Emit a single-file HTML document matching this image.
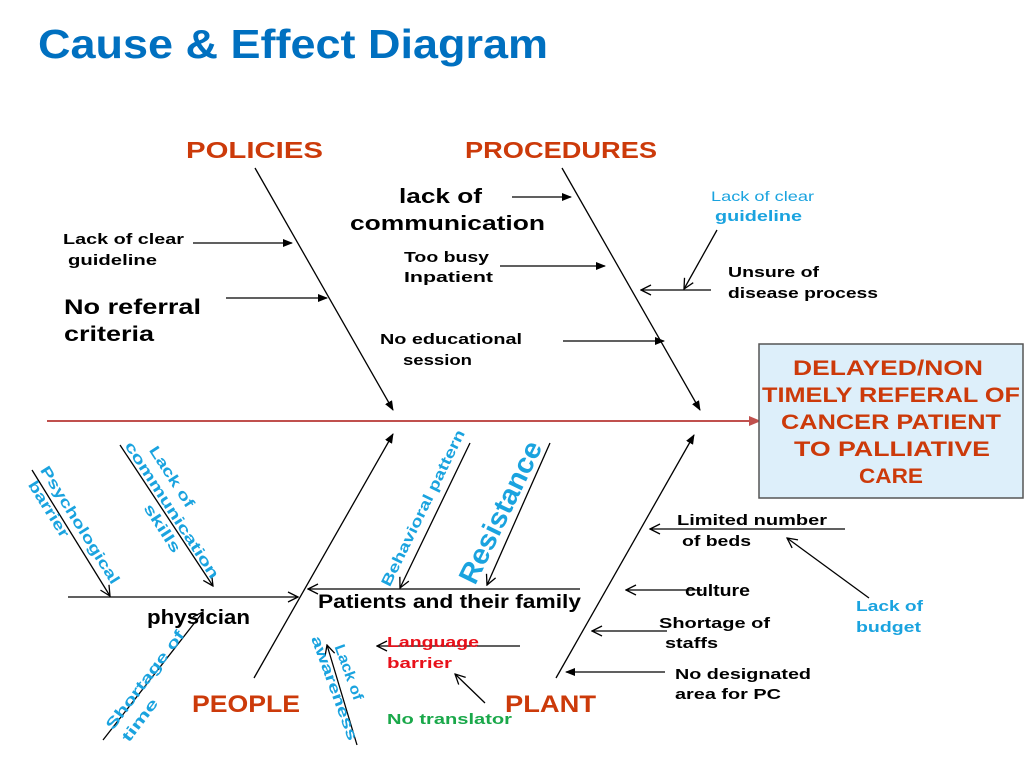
<!DOCTYPE html>
<html><head><meta charset="utf-8"><style>
html,body{margin:0;padding:0;background:#fff;}
svg{display:block;font-family:"Liberation Sans",sans-serif;font-weight:bold;}
</style></head><body>
<svg width="1024" height="768" viewBox="0 0 1024 768" xmlns="http://www.w3.org/2000/svg">
<defs>
<marker id="f" markerWidth="10" markerHeight="8" refX="9" refY="4" orient="auto" markerUnits="userSpaceOnUse"><path d="M0,0 L10,4 L0,8 z" fill="#000"/></marker>
<marker id="o" markerWidth="12" markerHeight="12" refX="11" refY="6" orient="auto" markerUnits="userSpaceOnUse"><path d="M1,1 L11,6 L1,11" fill="none" stroke="#000" stroke-width="1.3"/></marker>
<marker id="r" markerWidth="12" markerHeight="10" refX="11" refY="5" orient="auto" markerUnits="userSpaceOnUse"><path d="M0,0 L12,5 L0,10 z" fill="#C0504D"/></marker>
</defs>
<text x="38" y="58" font-size="41" fill="#0070C0" textLength="510" lengthAdjust="spacingAndGlyphs">Cause &amp; Effect Diagram</text>

<line x1="47" y1="421" x2="760" y2="421" stroke="#C0504D" stroke-width="2" marker-end="url(#r)"/>
<rect x="759" y="344" width="264" height="154" fill="#DDEFFA" stroke="#555" stroke-width="1.5"/>
<g font-size="21" fill="#CC3A0A" lengthAdjust="spacingAndGlyphs">
<text x="793" y="375" textLength="190" lengthAdjust="spacingAndGlyphs">DELAYED/NON</text>
<text x="762" y="402" textLength="258" lengthAdjust="spacingAndGlyphs">TIMELY REFERAL OF</text>
<text x="781" y="429" textLength="220" lengthAdjust="spacingAndGlyphs">CANCER PATIENT</text>
<text x="794" y="456" textLength="196" lengthAdjust="spacingAndGlyphs">TO PALLIATIVE</text>
<text x="859" y="483" textLength="64" lengthAdjust="spacingAndGlyphs">CARE</text>
</g>

<g stroke="#000" stroke-width="1.3" fill="none">
<line x1="255" y1="168" x2="393" y2="410" marker-end="url(#f)"/>
<line x1="562" y1="168" x2="700" y2="410" marker-end="url(#f)"/>
<line x1="193" y1="243" x2="292" y2="243" marker-end="url(#f)"/>
<line x1="226" y1="298" x2="327" y2="298" marker-end="url(#f)"/>
<line x1="512" y1="197" x2="571" y2="197" marker-end="url(#f)"/>
<line x1="500" y1="266" x2="605" y2="266" marker-end="url(#f)"/>
<line x1="563" y1="341" x2="664" y2="341" marker-end="url(#f)"/>
<line x1="717" y1="230" x2="684" y2="289" marker-end="url(#o)"/>
<line x1="711" y1="290" x2="641" y2="290" marker-end="url(#o)"/>

<line x1="254" y1="678" x2="393" y2="434" marker-end="url(#f)"/>
<line x1="68" y1="597" x2="298" y2="597" marker-end="url(#o)"/>
<line x1="32" y1="470" x2="110" y2="596" marker-end="url(#o)"/>
<line x1="120" y1="445" x2="213" y2="586" marker-end="url(#o)"/>
<line x1="103" y1="740" x2="203" y2="612" marker-end="url(#o)"/>
<line x1="580" y1="589" x2="308" y2="589" marker-end="url(#o)"/>
<line x1="470" y1="443" x2="400" y2="588" marker-end="url(#o)"/>
<line x1="550" y1="443" x2="487" y2="585" marker-end="url(#o)"/>
<line x1="357" y1="745" x2="327" y2="645" marker-end="url(#o)"/>
<line x1="520" y1="646" x2="377" y2="646" marker-end="url(#o)"/>
<line x1="485" y1="703" x2="455" y2="674" marker-end="url(#o)"/>

<line x1="556" y1="678" x2="694" y2="435" marker-end="url(#f)"/>
<line x1="845" y1="529" x2="650" y2="529" marker-end="url(#o)"/>
<line x1="702" y1="590" x2="626" y2="590" marker-end="url(#o)"/>
<line x1="667" y1="631" x2="592" y2="631" marker-end="url(#o)"/>
<line x1="665" y1="672" x2="566" y2="672" marker-end="url(#f)"/>
<line x1="869" y1="598" x2="787" y2="538" marker-end="url(#o)"/>
</g>

<g fill="#CC3A0A" font-size="23">
<text x="186" y="158" textLength="137" lengthAdjust="spacingAndGlyphs">POLICIES</text>
<text x="465" y="158" textLength="192" lengthAdjust="spacingAndGlyphs">PROCEDURES</text>
<text x="192" y="712" font-size="24" textLength="108" lengthAdjust="spacingAndGlyphs">PEOPLE</text>
<text x="505" y="712" font-size="24" textLength="91" lengthAdjust="spacingAndGlyphs">PLANT</text>
</g>

<g fill="#000">
<text x="63" y="244" font-size="15" textLength="121" lengthAdjust="spacingAndGlyphs">Lack of clear</text>
<text x="68" y="265" font-size="15" textLength="89" lengthAdjust="spacingAndGlyphs">guideline</text>
<text x="64" y="314" font-size="21" textLength="137" lengthAdjust="spacingAndGlyphs">No referral</text>
<text x="64" y="341" font-size="21" textLength="90" lengthAdjust="spacingAndGlyphs">criteria</text>
<text x="399" y="203" font-size="20" textLength="83" lengthAdjust="spacingAndGlyphs">lack of</text>
<text x="350" y="230" font-size="20" textLength="195" lengthAdjust="spacingAndGlyphs">communication</text>
<text x="404" y="262" font-size="15" textLength="85" lengthAdjust="spacingAndGlyphs">Too busy</text>
<text x="404" y="282" font-size="15" textLength="89" lengthAdjust="spacingAndGlyphs">Inpatient</text>
<text x="380" y="344" font-size="15" textLength="142" lengthAdjust="spacingAndGlyphs">No educational</text>
<text x="403" y="365" font-size="15" textLength="69" lengthAdjust="spacingAndGlyphs">session</text>
<text x="728" y="277" font-size="15" textLength="91" lengthAdjust="spacingAndGlyphs">Unsure of</text>
<text x="728" y="298" font-size="15" textLength="150" lengthAdjust="spacingAndGlyphs">disease process</text>
<text x="147" y="624" font-size="20" textLength="103" lengthAdjust="spacingAndGlyphs">physician</text>
<text x="318" y="608" font-size="19" textLength="263" lengthAdjust="spacingAndGlyphs">Patients and their family</text>
<text x="677" y="525" font-size="15" textLength="150" lengthAdjust="spacingAndGlyphs">Limited number</text>
<text x="682" y="546" font-size="15" textLength="69" lengthAdjust="spacingAndGlyphs">of beds</text>
<text x="685" y="596" font-size="17" textLength="65" lengthAdjust="spacingAndGlyphs">culture</text>
<text x="659" y="628" font-size="15" textLength="111" lengthAdjust="spacingAndGlyphs">Shortage of</text>
<text x="665" y="648" font-size="15" textLength="53" lengthAdjust="spacingAndGlyphs">staffs</text>
<text x="675" y="679" font-size="15" textLength="136" lengthAdjust="spacingAndGlyphs">No designated</text>
<text x="675" y="699" font-size="15" textLength="106" lengthAdjust="spacingAndGlyphs">area for PC</text>
</g>

<g fill="#1AA3DF" font-size="15">
<text x="711" y="201" font-size="14" font-weight="normal" textLength="103" lengthAdjust="spacingAndGlyphs">Lack of clear</text>
<text x="715" y="221" textLength="87" lengthAdjust="spacingAndGlyphs">guideline</text>
<text x="856" y="611" textLength="67" lengthAdjust="spacingAndGlyphs">Lack of</text>
<text x="856" y="632" textLength="65" lengthAdjust="spacingAndGlyphs">budget</text>
<g text-anchor="middle">
<g transform="translate(80,525) rotate(58)"><text x="0" y="5" textLength="136" lengthAdjust="spacingAndGlyphs">Psychological</text><text x="-30" y="23" textLength="64" lengthAdjust="spacingAndGlyphs">barrier</text></g>
<g transform="translate(172,510) rotate(57)"><text x="-28" y="-13" textLength="70" lengthAdjust="spacingAndGlyphs">Lack of</text><text x="0" y="5" textLength="160" lengthAdjust="spacingAndGlyphs">communication</text><text x="10" y="23" textLength="55" lengthAdjust="spacingAndGlyphs">skills</text></g>
<g transform="translate(145,680) rotate(-53)"><text x="0" y="5" textLength="120" lengthAdjust="spacingAndGlyphs">Shortage of</text><text x="-35" y="25" textLength="50" lengthAdjust="spacingAndGlyphs">time</text></g>
<g transform="translate(423,508) rotate(-64)"><text x="0" y="5" textLength="172" lengthAdjust="spacingAndGlyphs">Behavioral pattern</text></g>
<g transform="translate(500,512) rotate(-64)"><text x="0" y="10" font-size="28" textLength="155" lengthAdjust="spacingAndGlyphs">Resistance</text></g>
<g transform="translate(343,685) rotate(70)"><text x="-10" y="-5" textLength="58" lengthAdjust="spacingAndGlyphs">Lack of</text><text x="0" y="14" textLength="110" lengthAdjust="spacingAndGlyphs">awareness</text></g>
</g>
</g>

<text x="387" y="647" font-size="15" fill="#E8101A" textLength="92" lengthAdjust="spacingAndGlyphs">Language</text>
<text x="387" y="668" font-size="15" fill="#E8101A" textLength="65" lengthAdjust="spacingAndGlyphs">barrier</text>
<text x="387" y="724" font-size="15" fill="#1AA84A" textLength="125" lengthAdjust="spacingAndGlyphs">No translator</text>
</svg>
</body></html>
